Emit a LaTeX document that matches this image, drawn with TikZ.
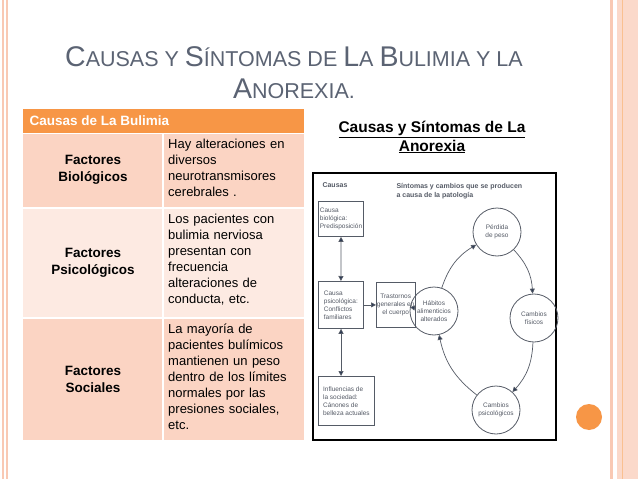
\documentclass[tikz,border=0pt]{standalone}
\usepackage{fontspec}
\setmainfont{Liberation Sans}
\usetikzlibrary{arrows.meta}
\definecolor{org}{HTML}{F79646}
\definecolor{pk1}{HTML}{FBD4C3}
\definecolor{pk2}{HTML}{FDEAE2}
\definecolor{brd}{HTML}{F9C9B4}
\definecolor{ttl}{HTML}{5B6373}
\definecolor{dg}{HTML}{555B66}
\definecolor{ar}{HTML}{2C3A55}
\newcommand\bsc[1]{{\fontsize{28.5}{30}\selectfont #1}}
\tikzset{x=1pt,y=-1pt,
 ttlf/.style={text=ttl,anchor=base,font=\fontsize{21.5}{30}\selectfont},
 cell/.style={font=\fontsize{13}{16}\selectfont},
 lab/.style={font=\fontsize{13.5}{17}\selectfont\bfseries,align=center},
 txt/.style={cell,align=left,anchor=north west,text width=135pt,inner sep=0pt},
 sbox/.style={draw=dg,line width=0.8pt,font=\fontsize{6.5}{8}\selectfont,text=dg,align=left,inner sep=1.5pt},
 scirc/.style={draw=dg,line width=0.8pt,circle,minimum size=48pt,font=\fontsize{6.5}{8}\selectfont,text=dg,align=center,inner sep=0pt},
 arw/.style={draw=dg,line width=0.7pt,-{Triangle[length=5pt,width=5pt,fill=ar]}},
 darw/.style={draw=dg,line width=0.7pt,{Triangle[length=5pt,width=5pt,fill=ar]}-{Triangle[length=5pt,width=5pt,fill=ar]}}}
\begin{document}
\begin{tikzpicture}
\useasboundingbox (0,0) rectangle (638,479);
\fill[white] (0,0) rectangle (638,479);
% borders
\fill[brd] (2,0) rectangle (4,479);
\fill[brd] (6,0) rectangle (8,479);
\fill[brd] (610,0) rectangle (613,479);
\fill[brd!70] (617,0) rectangle (638,479);
\fill[org!60] (622,0) rectangle (623,479);
\fill[org] (589,417) circle (13);
% title
\node[ttlf] (t1) at (294,66) {\bsc{C}AUSAS Y \bsc{S}ÍNTOMAS DE \bsc{L}A \bsc{B}ULIMIA Y LA};
\node[ttlf] (t2) at (294,98) {\bsc{A}NOREXIA.};
% table
\fill[org] (23,109) rectangle (304,133);
\fill[pk1] (23,134) rectangle (162,207);
\fill[pk1] (164,134) rectangle (304,207);
\fill[pk2] (23,209) rectangle (162,317);
\fill[pk2] (164,209) rectangle (304,317);
\fill[pk1] (23,319) rectangle (162,440);
\fill[pk1] (164,319) rectangle (304,440);
\node[anchor=west,text=white,font=\fontsize{13.5}{15}\selectfont\bfseries] (hd) at (26,121) {Causas de La Bulimia};
\node[lab] (l1) at (93,170) {Factores\\Biológicos};
\node[lab] (l2) at (93,263) {Factores\\Psicológicos};
\node[lab] (l3) at (93,379) {Factores\\Sociales};
\node[txt] (r1) at (168,139) {Hay alteraciones en\\diversos\\neurotransmisores\\cerebrales .};
\node[txt] (r2) at (168,214) {Los pacientes con\\bulimia nerviosa\\presentan con\\frecuencia\\alteraciones de\\conducta, etc.};
\node[txt] (r3) at (168,324) {La mayoría de\\pacientes bulímicos\\mantienen un peso\\dentro de los límites\\normales por las\\presiones sociales,\\etc.};
% right heading
\node[font=\fontsize{15.5}{19}\selectfont\bfseries,align=center] (rh) at (432,137) {\underline{Causas y Síntomas de La}\\\underline{Anorexia}};
% diagram frame
\draw[line width=2pt] (313,173) rectangle (556,440);
\node[font=\fontsize{7}{8.5}\selectfont\bfseries,text=dg] (c0) at (335,185) {Causas};
\node[font=\fontsize{7}{8.5}\selectfont\bfseries,text=dg,align=left,anchor=west] (c1) at (393,191) {Síntomas y cambios que se producen\\a causa de la patología};
\node[sbox,minimum width=45pt,minimum height=35pt,anchor=north west] (b1) at (318,201) {Causa\\biológica:\\Predisposición};
\node[sbox,minimum width=45pt,minimum height=47pt,anchor=north west] (b2) at (318,281) {Causa\\psicológica:\\Conflictos\\familiares};
\node[sbox,minimum width=56pt,minimum height=49pt,anchor=north west] (b3) at (318,376) {Influencias de\\la sociedad:\\Cánones de\\belleza actuales};
\node[sbox,align=center,minimum width=38pt,minimum height=45pt,anchor=north west,inner sep=0.5pt] (b4) at (376,282) {Trastornos\\generales en\\el cuerpo};
\node[scirc] (h) at (434,311) {Hábitos\\alimenticios\\alterados};
\node[scirc] (p) at (497,232) {Pérdida\\de peso};
\node[scirc] (f) at (534,318) {Cambios\\físicos};
\node[scirc] (s) at (496,410) {Cambios\\psicológicos};
\draw[darw] (b1) -- (b2);
\draw[darw] (b2.south -| b1.south) -- (b3.north -| b1.south);
\draw[arw] (b2) -- (b4);
\draw[arw] (b4) -- (h);
\draw[arw] (h) to[bend left=20] (p);
\draw[arw] (p) to[bend left=20] (f);
\draw[arw] (f) to[bend left=20] (s);
\draw[arw] (s) to[bend left=20] (h);
\end{tikzpicture}
\end{document}
